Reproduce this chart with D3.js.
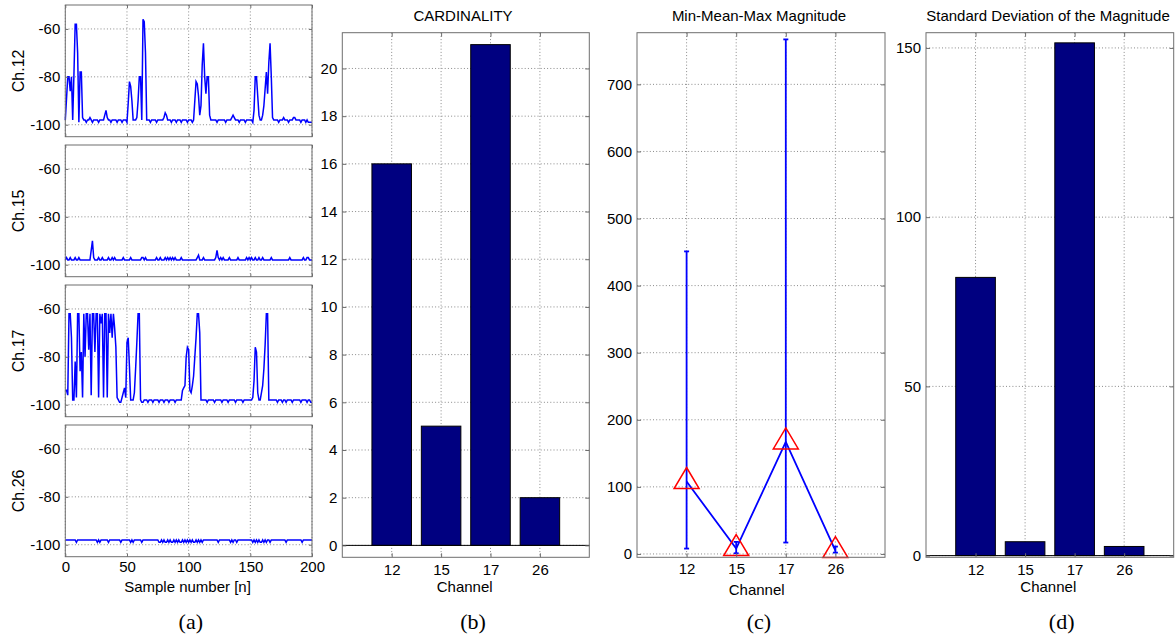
<!DOCTYPE html>
<html>
<head>
<meta charset="utf-8">
<script src="https://cdn.jsdelivr.net/npm/d3@7"></script>
<style>
  html, body { margin: 0; padding: 0; background: #fff; }
  svg { display: block; }
  text { font-family: "Liberation Sans", Arial, sans-serif; fill: #000; }
</style>
</head>
<body>
<svg id="fig" width="1176" height="636"></svg>
<script>
// ---- RSS traces per channel (dBm), one value per sample n = 0..200 ----
const ch12Rss = [
  -98,-89,-80,-80,-86,-80,-98,-79,-58,-58,
  -70,-99,-78,-78,-97,-98,-98,-99,-98,-98,
  -97,-98,-99,-98,-98,-98,-98,-99,-98,-98,
  -98,-98,-96,-94,-97,-98,-98,-99,-98,-98,
  -98,-98,-99,-98,-98,-98,-99,-98,-98,-98,
  -99,-91,-82,-84,-90,-98,-98,-98,-97,-90,
  -80,-80,-98,-56,-57,-70,-98,-98,-98,-99,
  -98,-98,-98,-98,-99,-98,-98,-98,-98,-98,
  -97,-95,-96,-98,-98,-98,-99,-98,-98,-98,
  -99,-98,-98,-98,-99,-98,-98,-98,-98,-99,
  -98,-98,-98,-99,-98,-90,-82,-83,-88,-96,
  -92,-75,-66,-80,-87,-80,-80,-96,-98,-98,
  -98,-98,-98,-99,-98,-98,-98,-98,-98,-98,
  -99,-98,-98,-98,-98,-97,-96,-97,-98,-98,
  -98,-99,-98,-98,-98,-98,-99,-98,-98,-98,
  -98,-98,-99,-94,-80,-80,-88,-96,-98,-98,
  -96,-92,-85,-78,-87,-74,-66,-80,-97,-98,
  -98,-98,-98,-99,-98,-98,-98,-97,-98,-98,
  -98,-99,-98,-98,-98,-97,-97,-98,-98,-98,
  -98,-99,-98,-98,-98,-99,-98,-99,-99,-99,
  -99
];
const ch15Rss = [
  -98,-97,-98,-98,-97,-98,-98,-98,-97,-98,
  -98,-97,-98,-98,-98,-98,-98,-98,-98,-98,
  -98,-94,-90,-97,-98,-98,-98,-97,-98,-98,
  -97,-98,-98,-98,-98,-97,-98,-98,-97,-98,
  -97,-98,-98,-98,-98,-98,-98,-97,-98,-98,
  -98,-98,-98,-97,-98,-98,-98,-98,-98,-98,
  -98,-98,-97,-97,-98,-97,-98,-98,-98,-98,
  -98,-98,-98,-98,-97,-98,-98,-97,-98,-98,
  -98,-97,-98,-97,-98,-97,-98,-97,-98,-97,
  -98,-98,-98,-98,-97,-98,-98,-98,-98,-98,
  -98,-98,-98,-98,-98,-98,-98,-97,-96,-98,
  -98,-98,-97,-98,-98,-98,-98,-98,-98,-98,
  -98,-98,-97,-94,-97,-98,-97,-98,-97,-98,
  -98,-98,-98,-97,-98,-98,-98,-98,-98,-98,
  -97,-98,-98,-98,-98,-98,-98,-97,-98,-97,
  -98,-97,-98,-98,-97,-98,-98,-97,-98,-98,
  -97,-98,-98,-98,-98,-98,-98,-97,-98,-98,
  -98,-98,-98,-98,-98,-98,-98,-98,-98,-98,
  -98,-98,-97,-98,-98,-98,-98,-98,-98,-98,
  -98,-98,-98,-97,-98,-98,-97,-97,-98,-98,
  -98
];
const ch17Rss = [
  -94,-94,-96,-62,-62,-72,-98,-98,-82,-97,
  -62,-62,-86,-78,-97,-62,-80,-62,-62,-77,
  -62,-96,-62,-62,-78,-62,-62,-97,-62,-66,
  -62,-97,-62,-62,-97,-62,-70,-62,-72,-62,
  -68,-76,-97,-98,-99,-99,-97,-95,-93,-97,
  -74,-72,-84,-98,-98,-98,-95,-85,-74,-62,
  -62,-98,-99,-99,-98,-98,-98,-99,-98,-98,
  -98,-99,-98,-98,-98,-98,-99,-98,-98,-98,
  -99,-98,-98,-98,-99,-98,-98,-98,-98,-99,
  -98,-98,-98,-98,-98,-94,-93,-92,-80,-76,
  -77,-94,-95,-92,-88,-80,-72,-62,-62,-70,
  -98,-98,-98,-98,-98,-99,-98,-98,-98,-98,
  -98,-99,-98,-98,-98,-98,-98,-99,-98,-98,
  -98,-98,-99,-98,-98,-98,-98,-98,-99,-98,
  -98,-98,-98,-98,-99,-98,-98,-98,-98,-98,
  -98,-98,-97,-90,-76,-78,-95,-98,-98,-95,
  -92,-85,-75,-62,-62,-98,-98,-98,-98,-98,
  -98,-98,-99,-98,-98,-98,-99,-98,-98,-99,
  -98,-98,-98,-98,-99,-98,-98,-98,-98,-98,
  -98,-99,-98,-98,-98,-98,-99,-98,-98,-99,
  -99
];
const ch26Rss = [
  -98,-98,-98,-98,-98,-98,-98,-98,-98,-99,
  -98,-98,-98,-98,-98,-98,-98,-98,-98,-98,
  -98,-98,-98,-98,-98,-98,-99,-98,-99,-98,
  -98,-98,-98,-98,-98,-99,-98,-98,-98,-98,
  -98,-98,-98,-98,-98,-99,-98,-98,-98,-98,
  -98,-98,-98,-99,-98,-99,-98,-98,-98,-98,
  -98,-98,-99,-98,-98,-98,-98,-98,-98,-98,
  -98,-98,-98,-98,-98,-98,-99,-99,-98,-99,
  -98,-99,-99,-98,-99,-98,-99,-99,-98,-99,
  -98,-99,-98,-99,-99,-98,-99,-98,-99,-98,
  -99,-98,-99,-98,-99,-99,-98,-99,-98,-99,
  -98,-99,-98,-98,-98,-98,-98,-98,-98,-98,
  -98,-98,-98,-98,-99,-98,-98,-98,-98,-98,
  -98,-98,-98,-98,-99,-98,-99,-98,-98,-99,
  -98,-98,-98,-98,-98,-98,-98,-98,-98,-98,
  -98,-98,-99,-98,-99,-98,-99,-98,-99,-99,
  -98,-99,-98,-99,-98,-98,-99,-98,-98,-98,
  -98,-98,-98,-98,-98,-98,-98,-98,-98,-99,
  -98,-98,-98,-98,-98,-98,-98,-98,-98,-98,
  -98,-98,-99,-98,-98,-98,-98,-98,-98,-98,
  -98
];
const traceLabels = ["Ch.12", "Ch.15", "Ch.17", "Ch.26"];
const rssTicks = [-100, -80, -60];
const sampleTicks = [0, 50, 100, 150, 200];

// ---- per-channel statistics ----
const channels = ["12", "15", "17", "26"];
const cardinality = [16, 5, 21, 2];
const cardTicks = [0, 2, 4, 6, 8, 10, 12, 14, 16, 18, 20];
const magMin  = [8, 1, 17, 2];
const magMean = [108, 8, 167, 5];
const magMax  = [451, 18, 767, 11];
const magTicks = [0, 100, 200, 300, 400, 500, 600, 700];
const magStd = [82.2, 4.1, 151.5, 2.7];
const stdTicks = [0, 50, 100, 150];

const svg = d3.select("#fig");
const FONT = 15;
const FRAME = "#6e6e6e";
const GRID = "#8a8a8a";
const BLUE = "#0000ff";
const NAVY = "#000080";
// plain hyphen-minus for negative tick values
const plainFmt = d => String(d);

// Dotted grid lines at every tick, drawn beneath the data.
function drawGrid(g, x, y, opts) {
  const [x0, x1] = x.range();
  const [y1, y0] = y.range();
  const grid = g.append("g").attr("class", "grid");
  grid.selectAll(".gx").data(opts.xTicks).join("line")
    .attr("x1", d => x(d)).attr("x2", d => x(d))
    .attr("y1", y0).attr("y2", y1)
    .attr("stroke", GRID).attr("stroke-width", 1).attr("stroke-dasharray", "1,2.2");
  grid.selectAll(".gy").data(opts.yTicks).join("line")
    .attr("x1", x0).attr("x2", x1)
    .attr("y1", d => y(d)).attr("y2", d => y(d))
    .attr("stroke", GRID).attr("stroke-width", 1).attr("stroke-dasharray", "1,2.2");
  return grid;
}

// Boxed axes with inward ticks on all four sides.
function drawFrame(g, x, y, opts) {
  const [x0, x1] = x.range();
  const [y1, y0] = y.range();
  const tl = opts.tickLen || 4;

  const bottom = d3.axisBottom(x).tickValues(opts.xTicks).tickSizeInner(-tl).tickSizeOuter(0)
    .tickPadding(opts.xPad).tickFormat(plainFmt);
  const ga = g.append("g").attr("transform", `translate(0,${y1})`).call(bottom);
  const left = d3.axisLeft(y).tickValues(opts.yTicks).tickSizeInner(-tl).tickSizeOuter(0)
    .tickPadding(opts.yPad).tickFormat(plainFmt);
  const gl = g.append("g").attr("transform", `translate(${x0},0)`).call(left);
  const top = d3.axisTop(x).tickValues(opts.xTicks).tickSizeInner(-tl).tickSizeOuter(0).tickFormat("");
  const gt = g.append("g").attr("transform", `translate(0,${y0})`).call(top);
  const right = d3.axisRight(y).tickValues(opts.yTicks).tickSizeInner(-tl).tickSizeOuter(0).tickFormat("");
  const gr = g.append("g").attr("transform", `translate(${x1},0)`).call(right);

  [ga, gl, gt, gr].forEach(s => {
    s.select(".domain").remove();
    s.selectAll(".tick line").attr("stroke", FRAME);
    s.selectAll(".tick text").attr("font-size", FONT).attr("font-family", null).attr("fill", "#000");
  });
  if (opts.hideXLabels) ga.selectAll(".tick text").remove();

  g.append("rect")
    .attr("x", x0).attr("y", y0).attr("width", x1 - x0).attr("height", y1 - y0)
    .attr("fill", "none").attr("stroke", FRAME).attr("stroke-width", 1);
}

// ---------------- (a) RSS traces ----------------
const traces = [ch12Rss, ch15Rss, ch17Rss, ch26Rss];
const aLeft = 65.3, aRight = 312;
const aTops = [5, 145, 285, 425];
const aH = 131.7;
const xS = d3.scaleLinear().domain([0, 200]).range([aLeft, aRight]);

traces.forEach((series, i) => {
  const g = svg.append("g");
  const yS = d3.scaleLinear().domain([-105, -50]).range([aTops[i] + aH, aTops[i]]);
  drawGrid(g, xS, yS, { xTicks: sampleTicks, yTicks: rssTicks });
  const line = d3.line().x((d, k) => xS(k)).y(d => yS(d));
  g.append("path").datum(series)
    .attr("d", line).attr("fill", "none")
    .attr("stroke", BLUE).attr("stroke-width", 1.5).attr("stroke-linejoin", "miter");
  drawFrame(g, xS, yS, {
    xTicks: sampleTicks, yTicks: rssTicks, tickLen: 3,
    xPad: 4.6, yPad: 5, hideXLabels: i < 3
  });
  g.append("text")
    .attr("transform", `translate(24,${aTops[i] + aH / 2}) rotate(-90)`)
    .attr("text-anchor", "middle").attr("font-size", 16)
    .text(traceLabels[i]);
});
svg.append("text").attr("x", 187.5).attr("y", 592).attr("text-anchor", "middle")
  .attr("font-size", FONT).text("Sample number [n]");

// ---------------- shared bar/category layout ----------------
const pTop = 32.7, pBottom = 557.3;
function catScale(x0, x1) {
  return d3.scalePoint().domain(channels).range([x0, x1]).padding(1);
}

function titleAt(cx, txt) {
  svg.append("text").attr("x", cx).attr("y", 21).attr("text-anchor", "middle")
    .attr("font-size", FONT).text(txt);
}
function xLabelAt(cx, cy) {
  svg.append("text").attr("x", cx).attr("y", cy).attr("text-anchor", "middle")
    .attr("font-size", FONT).text("Channel");
}

function barPanel(x0, x1, values, yDomain, yTicks) {
  const g = svg.append("g");
  const x = catScale(x0, x1);
  const y = d3.scaleLinear().domain(yDomain).range([pBottom, pTop]);
  drawGrid(g, x, y, { xTicks: channels, yTicks: yTicks });
  const bw = x.step() * 0.8;
  g.selectAll(".bar").data(values).join("rect")
    .attr("x", (d, i) => x(channels[i]) - bw / 2)
    .attr("y", d => y(d))
    .attr("width", bw)
    .attr("height", d => y(0) - y(d))
    .attr("fill", NAVY).attr("stroke", "#000").attr("stroke-width", 1);
  // bar baseline
  g.append("line").attr("x1", x0).attr("x2", x1).attr("y1", y(0)).attr("y2", y(0))
    .attr("stroke", "#000").attr("stroke-width", 1);
  drawFrame(g, x, y, { xTicks: channels, yTicks: yTicks, tickLen: 4, xPad: 7.3, yPad: 5 });
  return { g, x, y };
}

// ---------------- (b) cardinality ----------------
barPanel(342.3, 589.3, cardinality, [-0.5, 21.5], cardTicks);
titleAt(463, "CARDINALITY");
xLabelAt(464.7, 592);

// ---------------- (c) min / mean / max magnitude ----------------
{
  const x0 = 637, x1 = 885;
  const g = svg.append("g");
  const x = catScale(x0, x1);
  const y = d3.scaleLinear().domain([-5, 777]).range([pBottom, pTop]);
  drawGrid(g, x, y, { xTicks: channels, yTicks: magTicks });

  const pts = channels.map((c, i) => ({ c, lo: magMin[i], mid: magMean[i], hi: magMax[i] }));
  const cap = 2.5;
  const eb = g.append("g").attr("stroke", BLUE).attr("stroke-width", 1.8).attr("fill", "none");
  eb.selectAll(".whisker").data(pts).join("line")
    .attr("x1", d => x(d.c)).attr("x2", d => x(d.c))
    .attr("y1", d => y(d.lo)).attr("y2", d => y(d.hi));
  eb.selectAll(".capHi").data(pts).join("line")
    .attr("x1", d => x(d.c) - cap).attr("x2", d => x(d.c) + cap)
    .attr("y1", d => y(d.hi)).attr("y2", d => y(d.hi));
  eb.selectAll(".capLo").data(pts).join("line")
    .attr("x1", d => x(d.c) - cap).attr("x2", d => x(d.c) + cap)
    .attr("y1", d => y(d.lo)).attr("y2", d => y(d.lo));
  eb.append("path").datum(pts)
    .attr("d", d3.line().x(d => x(d.c)).y(d => y(d.mid)));

  // triangle markers centred (by centroid) on the mean
  const tw = 25, th = 21;
  const tri = `M0,${-2 * th / 3}L${tw / 2},${th / 3}L${-tw / 2},${th / 3}Z`;
  g.selectAll(".tri").data(pts).join("path")
    .attr("transform", d => `translate(${x(d.c)},${y(d.mid)})`)
    .attr("d", tri).attr("fill", "none").attr("stroke", "#ff0000").attr("stroke-width", 1.5);

  drawFrame(g, x, y, { xTicks: channels, yTicks: magTicks, tickLen: 4, xPad: 6.5, yPad: 5 });
}
titleAt(759, "Min-Mean-Max Magnitude");
xLabelAt(756.7, 595);

// ---------------- (d) standard deviation ----------------
barPanel(926, 1173.7, magStd, [-0.5, 154.5], stdTicks);
titleAt(1048, "Standard Deviation of the Magnitude");
xLabelAt(1048.3, 592);

// ---------------- sub-figure captions ----------------
[["(a)", 190.8], ["(b)", 473], ["(c)", 759], ["(d)", 1061.7]].forEach(([t, cx]) => {
  svg.append("text").attr("x", cx).attr("y", 629)
    .attr("text-anchor", "middle").attr("font-size", 22)
    .style("font-family", '"Liberation Serif", "Times New Roman", serif').text(t);
});
</script>
</body>
</html>
